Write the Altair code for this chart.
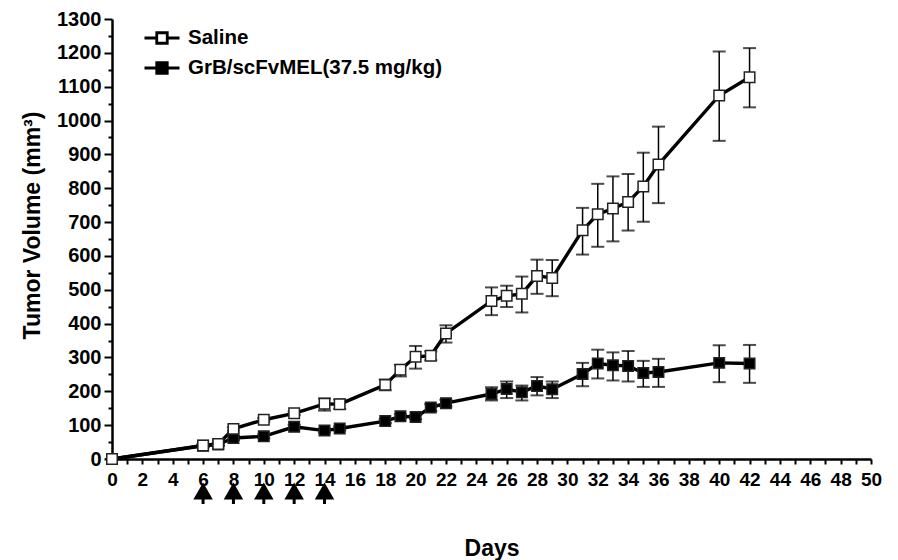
import altair as alt
import pandas as pd

# ---- data ----
days = [0, 6, 7, 8, 10, 12, 14, 15, 18, 19, 20, 21, 22, 25, 26, 27, 28, 29,
        31, 32, 33, 34, 35, 36, 40, 42]

saline_mean = [0, 40, 44, 89, 116, 135, 163, 162, 219, 264, 302, 305, 371, 467,
               482, 488, 541, 535, 676, 723, 740, 759, 805, 870, 1074, 1128]
saline_hi = [0, 44, 48, 94, 121, 140, 179, 176, 235, 278, 334, 318, 395, 507,
             512, 539, 589, 588, 742, 813, 835, 842, 905, 982, 1204, 1214]
saline_lo = [0, 36, 40, 84, 111, 130, 143, 148, 203, 244, 267, 292, 344, 425,
             449, 433, 488, 481, 604, 627, 643, 675, 701, 756, 940, 1039]

grb_mean = [0, 39, 43, 62, 67, 95, 84, 90, 112, 126, 124, 152, 165, 192,
            207, 197, 216, 206, 251, 282, 277, 275, 254, 257, 284, 282]
grb_hi = [0, 43, 47, 68, 73, 101, 90, 96, 118, 132, 130, 162, 175, 212,
          229, 217, 242, 229, 284, 323, 315, 319, 290, 296, 336, 337]
grb_lo = [0, 35, 39, 56, 61, 89, 78, 84, 106, 120, 118, 142, 155, 173,
          180, 173, 188, 180, 215, 238, 232, 229, 213, 213, 227, 225]

series_names = ["Saline", "GrB/scFvMEL(37.5 mg/kg)"]
arrow_days = [6, 8, 10, 12, 14]

rows = []
for name, m, lo, hi in [(series_names[1], grb_mean, grb_lo, grb_hi),
                        (series_names[0], saline_mean, saline_lo, saline_hi)]:
    for d, a, b, c in zip(days, m, lo, hi):
        rows.append({"series": name, "day": d, "mean": a, "lo": b, "hi": c})
df = pd.DataFrame(rows)
arrows = pd.DataFrame({"day": arrow_days})

FONT = "Liberation Sans"

x_enc = alt.X(
    "day:Q",
    scale=alt.Scale(domain=[0, 50], nice=False, zero=False),
    axis=alt.Axis(
        values=list(range(0, 51)),
        format="d",
        labelExpr="datum.value % 2 == 0 ? datum.label : ''",
        title="Days",
        titleY=96,
        titleBaseline="alphabetic",
        titleFontSize=23,
        labelFontSize=19,
        labelPadding=6,
        tickSize=5,
        labelFlush=False,
        labelOverlap=False,
    ),
)

y_scale = alt.Scale(domain=[0, 1300], nice=False)
y_axis = alt.Axis(
    values=list(range(0, 1301, 50)),
    format="d",
    labelExpr="datum.value % 100 == 0 ? datum.label : ''",
    title="Tumor Volume (mm³)",
    titleFontSize=23,
    titleX=-80,
    titleY=206,
    titleAngle=-90,
    titleAlign="center",
    titleBaseline="middle",
    labelFontSize=20,
    labelPadding=3,
    tickSize={"condition": {"test": "datum.value % 100 === 0", "value": 8}, "value": 4},
    labelFlush=False,
    labelOverlap=False,
)

base = alt.Chart(df)

bars = base.mark_rule(color="black", strokeWidth=1.5).encode(
    x=x_enc,
    y=alt.Y("lo:Q", scale=y_scale, axis=y_axis),
    y2="hi:Q",
)
cap_hi = base.mark_tick(color="black", orient="horizontal", size=13, thickness=2).encode(
    x=x_enc,
    y=alt.Y("hi:Q", scale=y_scale, axis=y_axis),
)
cap_lo = base.mark_tick(color="black", orient="horizontal", size=13, thickness=2).encode(
    x=x_enc,
    y=alt.Y("lo:Q", scale=y_scale, axis=y_axis),
)
lines = base.mark_line(color="black", strokeWidth=3.4).encode(
    x=x_enc,
    y=alt.Y("mean:Q", scale=y_scale, axis=y_axis),
    detail="series:N",
    order="day:Q",
)
points = base.mark_point(
    shape="square", filled=True, size=110, stroke="#222222", strokeWidth=1.5, opacity=1
).encode(
    x=x_enc,
    y=alt.Y("mean:Q", scale=y_scale, axis=y_axis),
    fill=alt.Fill(
        "series:N",
        scale=alt.Scale(domain=series_names, range=["white", "black"]),
        legend=alt.Legend(
            title=None,
            orient="none",
            legendX=31,
            legendY=0,
            padding=0,
            rowPadding=0,
            labelOffset=7,
            labelFont=FONT,
            labelFontSize=20.5,
            labelFontWeight="bold",
            labelColor="black",
            labelLimit=400,
            symbolType="M-1,0L-0.3,0M0.3,0L1,0M-0.3,-0.3L0.3,-0.3L0.3,0.3L-0.3,0.3Z",
            symbolSize=1225,
            symbolStrokeColor="black",
            symbolStrokeWidth=2.8,
        ),
    ),
)

arrow_heads = alt.Chart(arrows).mark_point(
    shape="triangle-up", filled=True, size=380, color="black", opacity=1
).encode(x=x_enc, y=alt.value(472))
arrow_stems = alt.Chart(arrows).mark_rule(color="black", strokeWidth=3).encode(
    x=x_enc, y=alt.value(476), y2=alt.value(485)
)

chart = alt.layer(bars, cap_hi, cap_lo, lines, points, arrow_heads, arrow_stems).properties(
    width=759,
    height=440,
    autosize=alt.AutoSizeParams(type="none"),
    padding={"left": 104, "top": 11, "right": 19, "bottom": 101},
    background="white",
).configure_view(stroke=None).configure_axis(
    grid=False,
    domainColor="black",
    domainWidth=2.5,
    tickColor="black",
    tickWidth=2,
    labelColor="black",
    titleColor="black",
    labelFont=FONT,
    titleFont=FONT,
    labelFontWeight="bold",
    titleFontWeight="bold",
)

chart.save("out.html", embed_options={"renderer": "svg", "actions": False})
